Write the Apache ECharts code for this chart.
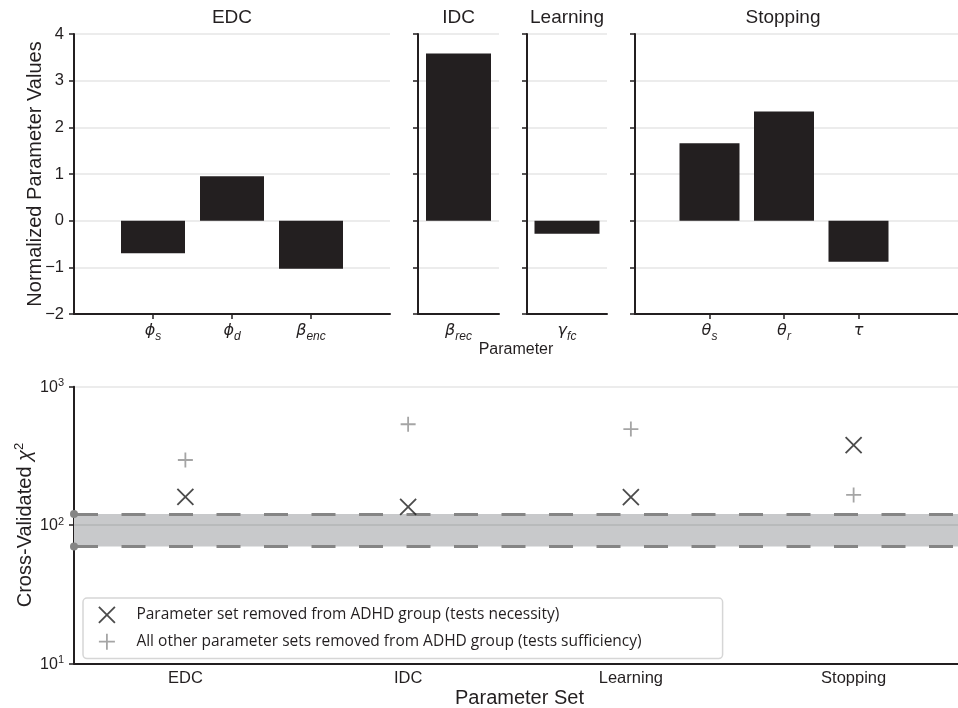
<!DOCTYPE html>
<html><head><meta charset="utf-8">
<script src="https://cdn.jsdelivr.net/npm/echarts@6/dist/echarts.min.js"></script>
<style>html,body{margin:0;padding:0;background:#fff}#c{width:958px;height:708px}</style>
</head><body><div id="c"></div>
<script>
// ---------------- data ----------------
const panelTitles = ['EDC', 'IDC', 'Learning', 'Stopping'];
const edcParams = ['ϕ|s', 'ϕ|d', 'β|enc'];
const edcValues = [-0.70, 0.95, -1.03];
const idcParams = ['β|rec'];
const idcValues = [3.58];
const learningParams = ['γ|fc'];
const learningValues = [-0.28];
const stoppingParams = ['θ|s', 'θ|r', 'τ|'];
const stoppingValues = [1.66, 2.34, -0.88];

const paramSets = ['EDC', 'IDC', 'Learning', 'Stopping'];
const necessityChi2 = [160, 135, 159, 378];
const sufficiencyChi2 = [295, 535, 494, 165];
const baselineBand = [70, 120];
const baselineMean = 100;

const necessityName = 'Parameter set removed from ADHD group (tests necessity)';
const sufficiencyName = 'All other parameter sets removed from ADHD group (tests sufficiency)';

// ---------------- layout ----------------
const FONT = 'Liberation Sans';
const INK = '#231f20';
const panels = [
  { params: ['', ...edcParams, ''], values: [null, ...edcValues, null], left: 74, width: 316, gap: false, barWidth: 64, titleX: 232 },
  { params: idcParams, values: idcValues, left: 418, width: 81, gap: true, barWidth: 65, titleX: 458.5 },
  { params: learningParams, values: learningValues, left: 527, width: 80, gap: true, barWidth: 65, titleX: 567 },
  { params: ['', ...stoppingParams, '', ''], values: [null, ...stoppingValues, null, null], left: 635, width: 372.5, gap: false, barWidth: 60, titleX: 783 }
];

const grids = [], xAxes = [], yAxes = [], series = [], graphics = [];

panels.forEach((p, i) => {
  grids.push({ left: p.left, top: 34, width: p.width, height: 280, containLabel: false, outerBoundsMode: 'none' });
  xAxes.push({
    type: 'category', gridIndex: i, data: p.params, boundaryGap: p.gap,
    axisLine: { onZero: false, lineStyle: { color: INK, width: 2 } },
    axisTick: { alignWithLabel: true, length: 5, lineStyle: { color: INK, width: 1.5 },
      interval: (idx, val) => val !== '' },
    axisLabel: {
      interval: 0, margin: 9,
      formatter: v => {
        if (!v) return '';
        const [m, s] = v.split('|');
        return s ? '{m|' + m + '}{s|' + s + '}' : '{m|' + m + '}';
      },
      rich: {
        m: { fontFamily: 'DejaVu Sans', fontStyle: 'italic', fontSize: 16, color: INK, verticalAlign: 'bottom', padding: [0, 0, 4, 0] },
        s: { fontFamily: FONT, fontStyle: 'italic', fontSize: 12, color: INK, verticalAlign: 'bottom' }
      }
    },
    splitLine: { show: false }
  });
  yAxes.push({
    type: 'value', gridIndex: i, min: -2, max: 4, interval: 1,
    axisLine: { show: true, lineStyle: { color: INK, width: 2 } },
    axisTick: { show: true, length: 5, lineStyle: { color: INK, width: 1.5 } },
    axisLabel: { show: i === 0, fontFamily: FONT, fontSize: 16.5, color: INK, margin: 10,
      formatter: v => String(v).replace('-', '\u2212') },
    splitLine: { show: true, lineStyle: { color: '#e6e6e6', width: 1.5 } },
    name: i === 0 ? 'Normalized Parameter Values' : '',
    nameLocation: 'middle', nameGap: 29, nameMoveOverlap: false,
    nameTextStyle: { fontFamily: FONT, fontSize: 20, color: INK }
  });
  series.push({
    type: 'bar', xAxisIndex: i, yAxisIndex: i, data: p.values, barWidth: p.barWidth,
    itemStyle: { color: INK }, silent: true, animation: false
  });
  graphics.push({ type: 'text', x: p.titleX, y: 18,
    style: { text: panelTitles[i], fontFamily: FONT, fontSize: 19, fill: INK, align: 'center', verticalAlign: 'middle' } });
});

graphics.push({ type: 'text', x: 516, y: 350,
  style: { text: 'Parameter', fontFamily: FONT, fontSize: 16, fill: INK, align: 'center', verticalAlign: 'middle' } });

// bottom panel
grids.push({ left: 74, top: 386.7, width: 891, height: 276.6, containLabel: false, outerBoundsMode: 'none' });
xAxes.push({
  type: 'category', gridIndex: 4, data: paramSets, boundaryGap: true,
  axisLine: { onZero: false, lineStyle: { color: INK, width: 2 } },
  axisTick: { alignWithLabel: true, length: 5, lineStyle: { color: INK, width: 1.5 } },
  axisLabel: { fontFamily: FONT, fontSize: 16.5, color: INK, margin: 7 },
  name: 'Parameter Set', nameLocation: 'middle', nameGap: 24,
  nameTextStyle: { fontFamily: FONT, fontSize: 20, color: INK }
});
yAxes.push({
  type: 'log', logBase: 10, gridIndex: 4, min: 10, max: 1000,
  axisLine: { show: true, lineStyle: { color: INK, width: 2 } },
  axisTick: { show: true, length: 5, lineStyle: { color: INK, width: 1.5 } },
  minorTick: { show: false },
  axisLabel: {
    margin: 10,
    formatter: v => '{b|10}{s|' + Math.round(Math.log10(v)) + '}',
    rich: {
      b: { fontFamily: FONT, fontSize: 16, color: INK, lineHeight: 18, verticalAlign: 'bottom', padding: [5, 0, 0, 0] },
      s: { fontFamily: FONT, fontSize: 11, color: INK, lineHeight: 11, verticalAlign: 'top' }
    }
  },
  splitLine: { show: true, lineStyle: { color: '#e6e6e6', width: 1.5 } },
  name: '{n|Cross-Validated }{c|χ}{s|2}',
  nameLocation: 'middle', nameGap: 39, nameMoveOverlap: false,
  nameTextStyle: {
    rich: {
      n: { fontFamily: FONT, fontSize: 20, color: INK, lineHeight: 22, verticalAlign: 'bottom', padding: [6, 0, 0, 0] },
      c: { fontFamily: FONT, fontSize: 20, fontStyle: 'italic', color: INK, lineHeight: 22, verticalAlign: 'bottom', padding: [6, 0, 0, 0] },
      s: { fontFamily: FONT, fontSize: 13, color: INK, lineHeight: 13, verticalAlign: 'top' }
    }
  }
});

const xPath = 'path://M0,0L10,10M10,0L0,10';
const plusPath = 'path://M5,0L5,10M0,5L10,5';
const necStyle = { color: 'rgba(0,0,0,0)', borderColor: '#1e1e1e', borderWidth: 1.8 };
const sufStyle = { color: 'rgba(0,0,0,0)', borderColor: '#8e8e8e', borderWidth: 1.8 };

series.push({
  type: 'scatter', name: necessityName, xAxisIndex: 4, yAxisIndex: 4,
  data: necessityChi2, symbol: xPath, symbolSize: 16, itemStyle: necStyle, z: 5,
  animation: false,
  markArea: {
    silent: true, itemStyle: { color: '#c8c9cb' },
    data: [[{ yAxis: baselineBand[0] }, { yAxis: baselineBand[1] }]]
  },
  markLine: {
    silent: true, symbol: ['circle', 'none'], symbolSize: 8,
    label: { show: false },
    lineStyle: { color: '#858585', width: 3, type: [24, 23.5], opacity: 1 },
    itemStyle: { color: 'rgba(110,110,110,0.7)' },
    data: [
      { yAxis: baselineBand[1] },
      { yAxis: baselineBand[0] }
    ]
  }
});
series.push({
  type: 'scatter', name: sufficiencyName, xAxisIndex: 4, yAxisIndex: 4,
  data: sufficiencyChi2, symbol: plusPath, symbolSize: 15, itemStyle: sufStyle, z: 5,
  animation: false,
  markLine: {
    silent: true, symbol: 'none', label: { show: false },
    lineStyle: { color: '#b3b4b6', width: 1.5, type: 'solid' },
    data: [{ yAxis: baselineMean }]
  }
});

const option = {
  animation: false,
  grid: grids, xAxis: xAxes, yAxis: yAxes, series: series,
  graphic: graphics,
  legend: {
    orient: 'vertical', left: 83, top: 598,
    padding: [8, 81, 8, 15], itemGap: 9, itemWidth: 17, itemHeight: 16,
    borderColor: '#d6d6d6', borderWidth: 1.5, borderRadius: 4, backgroundColor: '#fff',
    textStyle: { fontFamily: 'Open Sans', fontSize: 15.5, color: INK, padding: [0, 0, 0, 16] },
    selectedMode: false,
    data: [
      { name: necessityName, icon: xPath, itemStyle: necStyle },
      { name: sufficiencyName, icon: plusPath, itemStyle: sufStyle }
    ]
  }
};

const chart = echarts.init(document.getElementById('c'), null, { renderer: 'canvas' });
chart.setOption(option);
</script></body></html>
